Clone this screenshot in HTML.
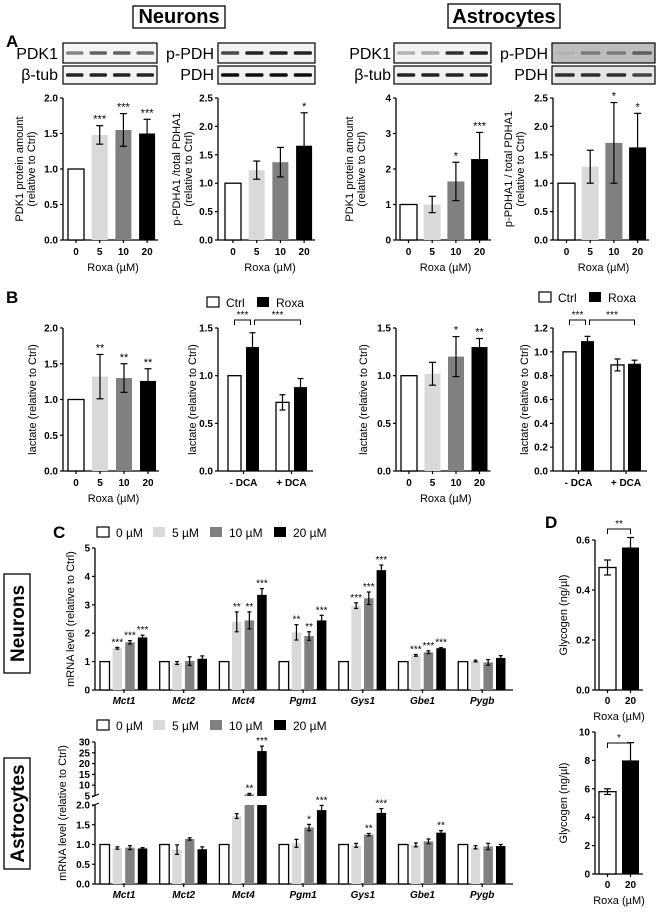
<!DOCTYPE html>
<html><head><meta charset="utf-8"><style>
html,body{margin:0;padding:0;background:#fff}
svg{display:block;font-family:"Liberation Sans",Arial,sans-serif}
</style></head><body>
<svg id="fig" xmlns="http://www.w3.org/2000/svg" width="656" height="922" viewBox="0 0 656 922">
<rect x="0" y="0" width="656" height="922" fill="#fff"/>
</svg>
<script>
// ---------- DATA ----------
const doseCats = ["0","5","10","20"];
const dcaCats = ["- DCA","+ DCA"];
const a1Vals = [1, 1.48, 1.55, 1.50];  const a1Errs = [0, 0.13, 0.23, 0.20]; const a1Stars = ["","***","***","***"];
const a2Vals = [1, 1.23, 1.37, 1.66];  const a2Errs = [0, 0.16, 0.26, 0.58]; const a2Stars = ["","","","*"];
const a3Vals = [1, 1.00, 1.65, 2.28];  const a3Errs = [0, 0.23, 0.54, 0.75]; const a3Stars = ["","","*","***"];
const a4Vals = [1, 1.29, 1.71, 1.63];  const a4Errs = [0, 0.29, 0.71, 0.60]; const a4Stars = ["","","*","*"];
const b1Vals = [1, 1.32, 1.30, 1.26];  const b1Errs = [0, 0.31, 0.20, 0.17]; const b1Stars = ["","**","**","**"];
const b3Vals = [1, 1.02, 1.20, 1.30];  const b3Errs = [0, 0.12, 0.21, 0.09]; const b3Stars = ["","","*","**"];
const b2Vals = [1, 1.30, 0.72, 0.88];  const b2Errs = [0, 0.15, 0.08, 0.09];
const b4Vals = [1, 1.09, 0.89, 0.90];  const b4Errs = [0, 0.04, 0.05, 0.03];
const genes = ["Mct1","Mct2","Mct4","Pgm1","Gys1","Gbe1","Pygb"];
const cnVals = [[1,1.47,1.68,1.85],[1,0.95,1.02,1.10],[1,2.40,2.45,3.35],[1,2.03,1.90,2.45],[1,2.97,3.23,4.22],[1,1.22,1.33,1.47],[1,1.02,0.97,1.13]];
const cnErrs = [[0,0.03,0.06,0.08],[0,0.05,0.15,0.10],[0,0.35,0.30,0.22],[0,0.27,0.15,0.18],[0,0.10,0.22,0.18],[0,0.03,0.05,0.02],[0,0.03,0.10,0.08]];
const cnStars = [["","***","***","***"],["","","",""],["","**","**","***"],["","**","**","***"],["","***","***","***"],["","***","***","***"],["","","",""]];
const caVals = [[1,0.91,0.92,0.90],[1,0.87,1.14,0.88],[1,1.72,5.8,25.8],[1,1.03,1.43,1.87],[1,0.98,1.25,1.80],[1,0.99,1.08,1.30],[1,0.93,0.95,0.96]];
const caErrs = [[0,0.03,0.05,0.02],[0,0.12,0.03,0.06],[0,0.06,0.4,2.3],[0,0.10,0.08,0.12],[0,0.05,0.03,0.11],[0,0.05,0.06,0.05],[0,0.04,0.08,0.04]];
const caStars = [["","","",""],["","","",""],["","","**","***"],["","","*","***"],["","","**","***"],["","","","**"],["","","",""]];
const dCats = ["0","20"];
const d1Vals = [0.49, 0.57]; const d1Errs = [0.03, 0.04];
const d2Vals = [5.8, 8.0];   const d2Errs = [0.2, 1.25];
const fills = ["#ffffff","#d9d9d9","#808080","#000000"];

// ---------- HELPERS ----------
const NS = "http://www.w3.org/2000/svg";
const svg = document.getElementById("fig");
function mk(tag, attrs, parent){
  const e = document.createElementNS(NS, tag);
  for (const k in attrs) e.setAttribute(k, attrs[k]);
  (parent || svg).appendChild(e);
  return e;
}
function txt(s, x, y, size, opts, parent){
  const o = opts || {};
  const t = mk("text", {x:x, y:y, "font-size":size, "text-anchor":o.anchor||"middle",
    "font-weight":o.bold?"bold":"normal", "font-style":o.italic?"italic":"normal", fill:"#000"}, parent);
  if (o.rot) t.setAttribute("transform", "rotate(-90 "+x+" "+y+")");
  t.textContent = s;
  return t;
}
function line(x1,y1,x2,y2,w,parent){ return mk("line",{x1:x1,y1:y1,x2:x2,y2:y2,stroke:"#000","stroke-width":w||1},parent); }

function yAxis(g, ax, yb, yt, vmin, vmax, ticks, dec){
  const sy = v => yb - (v - vmin) / (vmax - vmin) * (yb - yt);
  const a = line(ax, yt, ax, yb, 1.3, g);
  
  
  ticks.forEach(v => {
    line(ax-3, sy(v), ax, sy(v), 1.2, g);
    const t = txt(v.toFixed(dec), ax-5, sy(v)+3.5, 10, {anchor:"end", bold:true}, g);
    
    
  });
  return sy;
}
function bar(g, x, w, sy, v, e, fill, capw, base){
  const y0 = base !== undefined ? base : sy(0);
  const y = sy(v);
  const r = mk("rect", {x:x, y:Math.min(y,y0), width:w, height:Math.abs(y0-y), fill:fill,
    stroke: fill==="#ffffff" ? "#000" : "none", "stroke-width":1.3}, g);
  
  
  if (e > 0){
    const cx = x + w/2;
    line(cx, sy(v+e), cx, sy(v-e), 1.2, g);
    line(cx-capw/2, sy(v+e), cx+capw/2, sy(v+e), 1.2, g);
    line(cx-capw/2, sy(v-e), cx+capw/2, sy(v-e), 1.2, g);
  }
  return r;
}
function stars(g, s, x, y, size){
  if (!s) return;
  const t = txt(s, x, y, size||11, {}, g);
  
  
}

function doseChart(name, ax, yb, yt, vmax, tickStep, dec, x0, step, bw, vals, errs, st, ylab1, ylab2, labX1, labX2){
  const g = mk("g", {});
  
  
  const ticks = []; for (let v=0; v<=vmax+1e-9; v+=tickStep) ticks.push(v);
  const sy = yAxis(g, ax, yb, yt, 0, vmax, ticks, dec);
  const xEnd = x0 + step*3 + bw + 3;
  line(ax, yb, xEnd, yb, 1.3, g);
  vals.forEach((v,i) => {
    const x = x0 + i*step;
    bar(g, x, bw, sy, v, errs[i], fills[i], 7);
    line(x+bw/2, yb, x+bw/2, yb+3, 1.2, g);
    const tl = txt(doseCats[i], x+bw/2, yb+15, 10, {bold:true}, g);
    
    
    stars(g, st[i], x+bw/2, sy(v+errs[i]) - 3);
  });
  const xt = txt("Roxa (µM)", (x0+xEnd)/2, yb+31, 11, {}, g);
  
  
  const cy = (yb+yt)/2;
  const l1 = txt(ylab1, labX1, cy, 11, {rot:true}, g);
  
  
  if (ylab2){
    const l2 = txt(ylab2, labX2, cy, 11, {rot:true}, g);
    
    
  }
}
function bracket(g, x1, x2, y, s){
  mk("path", {d:"M"+x1+" "+(y+5)+"V"+y+"H"+x2+"V"+(y+5), fill:"none", stroke:"#000", "stroke-width":1}, g);
  stars(g, s, (x1+x2)/2, y-2, 10);
}
function dcaChart(name, ax, yb, yt, vmax, tickStep, dec, xs, bw, vals, errs, labX){
  const g = mk("g", {});
  
  
  const ticks = []; for (let v=0; v<=vmax+1e-9; v+=tickStep) ticks.push(v);
  const sy = yAxis(g, ax, yb, yt, 0, vmax, ticks, dec);
  const xEnd = xs[3] + bw + 6;
  line(ax, yb, xEnd, yb, 1.3, g);
  vals.forEach((v,i) => {
    bar(g, xs[i], bw, sy, v, errs[i], i%2 ? "#000000" : "#ffffff", 6);
  });
  [0,1].forEach(k => {
    const c = (xs[2*k] + xs[2*k+1] + bw)/2;
    line(c, yb, c, yb+3, 1.2, g);
    const tl = txt(dcaCats[k], c, yb+15, 10, {bold:true}, g);
    
    
  });
  const by = yt - 8;
  bracket(g, xs[0]+bw/2, xs[1]+bw/2-2, by, "***");
  bracket(g, xs[1]+bw/2+2, xs[3]+bw/2, by, "***");
  const l1 = txt("lactate (relative to Ctrl)", labX, (yb+yt)/2, 11, {rot:true}, g);
  
  
}
function ctrlRoxaLegend(x, y){
  const g = mk("g", {});
  
  
  mk("rect", {x:x, y:y-5, width:12, height:10, fill:"#fff", stroke:"#000", "stroke-width":1.2}, g);
  const t1 = txt("Ctrl", x+19, y+5, 12, {anchor:"start"}, g);
  
  
  mk("rect", {x:x+50, y:y-5, width:12, height:10, fill:"#000"}, g);
  const t2 = txt("Roxa", x+69, y+5, 12, {anchor:"start"}, g);
  
  
}
function doseLegend(y){
  const g = mk("g", {});
  
  
  const lx = [97, 153, 210, 274];
  const labs = ["0 µM","5 µM","10 µM","20 µM"];
  lx.forEach((x,i) => {
    mk("rect", {x:x, y:y-5, width:12, height:10, fill:fills[i], stroke:i===0?"#000":"none", "stroke-width":1.2}, g);
    const t = txt(labs[i], x+19, y+5, 12, {anchor:"start"}, g);
    
    
  });
}
function boxTitle(s, x1, y1, x2, y2, vertical, name){
  const g = mk("g", {});
  
  
  mk("rect", {x:x1, y:y1, width:x2-x1, height:y2-y1, fill:"#fff", stroke:"#000", "stroke-width":1.3}, g);
  if (vertical) txt(s, (x1+x2)/2+7, (y1+y2)/2, 19, {bold:true, rot:true}, g);
  else txt(s, (x1+x2)/2, y2-5, 20, {bold:true}, g);
}
function blot(label, lx, x1, y1, x2, y2, bg, intens, name){
  const g = mk("g", {});
  
  
  mk("rect", {x:x1, y:y1, width:x2-x1, height:y2-y1, fill:bg, stroke:"#000", "stroke-width":1.2}, g);
  const lw = (x2-x1)/4;
  intens.forEach((a,i) => {
    mk("rect", {x:x1+i*lw+3, y:(y1+y2)/2-1.8, width:lw-6, height:3.6, rx:1.5, fill:"#000", opacity:a}, g);
  });
  const t = txt(label, lx, y2-4, 16, {anchor:"end"}, g);
  
  
}
function mrnaAxisLabels(g, yb){
  genes.forEach((gn,k) => {
    const c = 100 + k*59.7 + 24;
    line(c, yb, c, yb+3, 1.2, g);
    const t = txt(gn, c, yb+14, 10, {bold:true, italic:true}, g);
    
    
  });
}

// ---------- TITLES / LETTERS ----------
boxTitle("Neurons", 133, 6, 225, 28, false, "neurons-title");
boxTitle("Astrocytes", 448, 4, 560, 28, false, "astrocytes-title");
[["A",6,47],["B",6,303],["C",53,538],["D",545,528]].forEach(p => {
  const t = txt(p[0], p[1], p[2], 17, {anchor:"start", bold:true});
  
  
});

// ---------- BLOTS ----------
blot("PDK1", 58, 63, 43, 157, 63, "#f4f4f4", [0.45,0.6,0.6,0.55], "blot-pdk1-neurons");
blot("β-tub", 58, 63, 66, 157, 84, "#f4f4f4", [0.85,0.85,0.85,0.85], "blot-btub-neurons");
blot("p-PDH", 214, 218, 43, 315, 63, "#f2f2f2", [0.7,0.85,0.85,0.85], "blot-ppdh-neurons");
blot("PDH", 214, 218, 66, 315, 84, "#f2f2f2", [0.95,0.95,0.95,0.95], "blot-pdh-neurons");
blot("PDK1", 391, 394, 43, 491, 63, "#f2f2f2", [0.25,0.3,0.8,0.85], "blot-pdk1-astrocytes");
blot("β-tub", 391, 394, 66, 491, 84, "#f2f2f2", [0.85,0.85,0.85,0.85], "blot-btub-astrocytes");
blot("p-PDH", 548, 552, 43, 655, 63, "#bdbdbd", [0.05,0.35,0.35,0.5], "blot-ppdh-astrocytes");
blot("PDH", 548, 552, 66, 655, 84, "#e6e6e6", [0.8,0.8,0.8,0.7], "blot-pdh-astrocytes");

// ---------- PANEL A ----------
doseChart("chart-a-pdk1-neurons", 63, 240, 98, 2.0, 0.5, 1, 68, 23.7, 16, a1Vals, a1Errs, a1Stars, "PDK1 protein amount", "(relative to Ctrl)", 23, 35);
doseChart("chart-a-ppdh-neurons", 218, 240, 98, 2.5, 0.5, 1, 225, 23.7, 16, a2Vals, a2Errs, a2Stars, "p-PDHA1 /total PDHA1", "(relative to Ctrl)", 180, 192);
doseChart("chart-a-pdk1-astrocytes", 396, 240, 98, 4, 1, 0, 400, 23.7, 17, a3Vals, a3Errs, a3Stars, "PDK1 protein amount", "(relative to Ctrl)", 353, 365);
doseChart("chart-a-ppdh-astrocytes", 553, 240, 98, 2.5, 0.5, 1, 558, 23.7, 17, a4Vals, a4Errs, a4Stars, "p-PDHA1 / total PDHA1", "(relative to Ctrl)", 512, 524);

// ---------- PANEL B ----------
ctrlRoxaLegend(207, 302);
ctrlRoxaLegend(539, 297);
doseChart("chart-b-lactate-neurons", 63, 471, 328, 2.0, 0.5, 1, 68, 24, 16, b1Vals, b1Errs, b1Stars, "lactate (relative to Ctrl)", null, 36, 0);
dcaChart("chart-b-dca-neurons", 218, 471, 328, 1.5, 0.5, 1, [228,246,276,294], 13, b2Vals, b2Errs, 196);
doseChart("chart-b-lactate-astrocytes", 396, 471, 328, 1.5, 0.5, 1, 401, 23.5, 16, b3Vals, b3Errs, b3Stars, "lactate (relative to Ctrl)", null, 367, 0);
dcaChart("chart-b-dca-astrocytes", 553, 471, 328, 1.2, 0.2, 1, [563,581,611,628], 13, b4Vals, b4Errs, 528);

// ---------- PANEL C neurons ----------
doseLegend(532);
boxTitle("Neurons", 4, 574, 30, 673, true, "neurons-side-title");
(function(){
  const g = mk("g", {});
  
  
  const yb = 690, yt = 548;
  const sy = yAxis(g, 95, yb, yt, 0, 5, [0,1,2,3,4,5], 0);
  line(95, yb, 513, yb, 1.3, g);
  genes.forEach((gn,k) => {
    cnVals[k].forEach((v,i) => {
      const x = 100 + k*59.7 + i*12.6;
      bar(g, x, 9.5, sy, v, cnErrs[k][i], fills[i], 4);
      stars(g, cnStars[k][i], x+4.75, sy(v+cnErrs[k][i]) - 2, 10);
    });
  });
  mrnaAxisLabels(g, yb);
  const l = txt("mRNA level (relative to Ctrl)", 74, 619, 11, {rot:true}, g);
  
  
})();

// ---------- PANEL C astrocytes (broken axis) ----------
doseLegend(725);
boxTitle("Astrocytes", 4, 758, 30, 869, true, "astrocytes-side-title");
(function(){
  const g = mk("g", {});
  
  
  const yb = 884, yt = 805, ub = 796, ut = 742;
  const syL = yAxis(g, 95, yb, yt, 0, 2, [0,0.5,1,1.5,2], 1);
  const syU = yAxis(g, 95, ub, ut, 5, 30, [5,10,15,20,25,30], 0);
  line(92, ub+1, 99, ub-2, 1, g);
  line(92, yt+1, 99, yt-2, 1, g);
  line(95, yb, 513, yb, 1.3, g);
  genes.forEach((gn,k) => {
    caVals[k].forEach((v,i) => {
      const x = 100 + k*59.7 + i*12.6;
      const e = caErrs[k][i];
      if (v <= 2){
        bar(g, x, 9.5, syL, v, e, fills[i], 4);
        stars(g, caStars[k][i], x+4.75, syL(v+e) - 2, 10);
      } else {
        bar(g, x, 9.5, syL, 2, 0, fills[i], 4);
        bar(g, x, 9.5, syU, v, e, fills[i], 4, ub);
        stars(g, caStars[k][i], x+4.75, syU(v+e) - 2, 10);
      }
    });
  });
  mrnaAxisLabels(g, yb);
  const l = txt("mRNA level (relative to Ctrl)", 66, 813, 11, {rot:true}, g);
  
  
})();

// ---------- PANEL D ----------
function glyChart(name, yb, yt, vmax, tickStep, dec, vals, errs, star, by){
  const g = mk("g", {});
  
  
  const ticks = []; for (let v=0; v<=vmax+1e-9; v+=tickStep) ticks.push(v);
  const sy = yAxis(g, 595, yb, yt, 0, vmax, ticks, dec);
  line(595, yb, 643, yb, 1.3, g);
  vals.forEach((v,i) => {
    const x = 599 + i*23;
    bar(g, x, 17, sy, v, errs[i], i ? "#000000" : "#ffffff", 7);
    const cx = x + 8.5;
    line(cx, yb, cx, yb+3, 1.2, g);
    const tl = txt(dCats[i], cx, yb+14, 10, {bold:true}, g);
    
    
  });
  bracket(g, 607.5, 630.5, by, star);
  const xt = txt("Roxa (µM)", 619, yb+30, 11, {}, g);
  
  
  const l = txt("Glycogen (ng/µl)", 567, (yb+yt)/2, 11, {rot:true}, g);
  
  
}
glyChart("chart-d-glycogen-neurons", 690, 540, 0.6, 0.2, 1, d1Vals, d1Errs, "**", 529);
glyChart("chart-d-glycogen-astrocytes", 874, 732, 10, 2, 0, d2Vals, d2Errs, "*", 743);
</script>
</body></html>
